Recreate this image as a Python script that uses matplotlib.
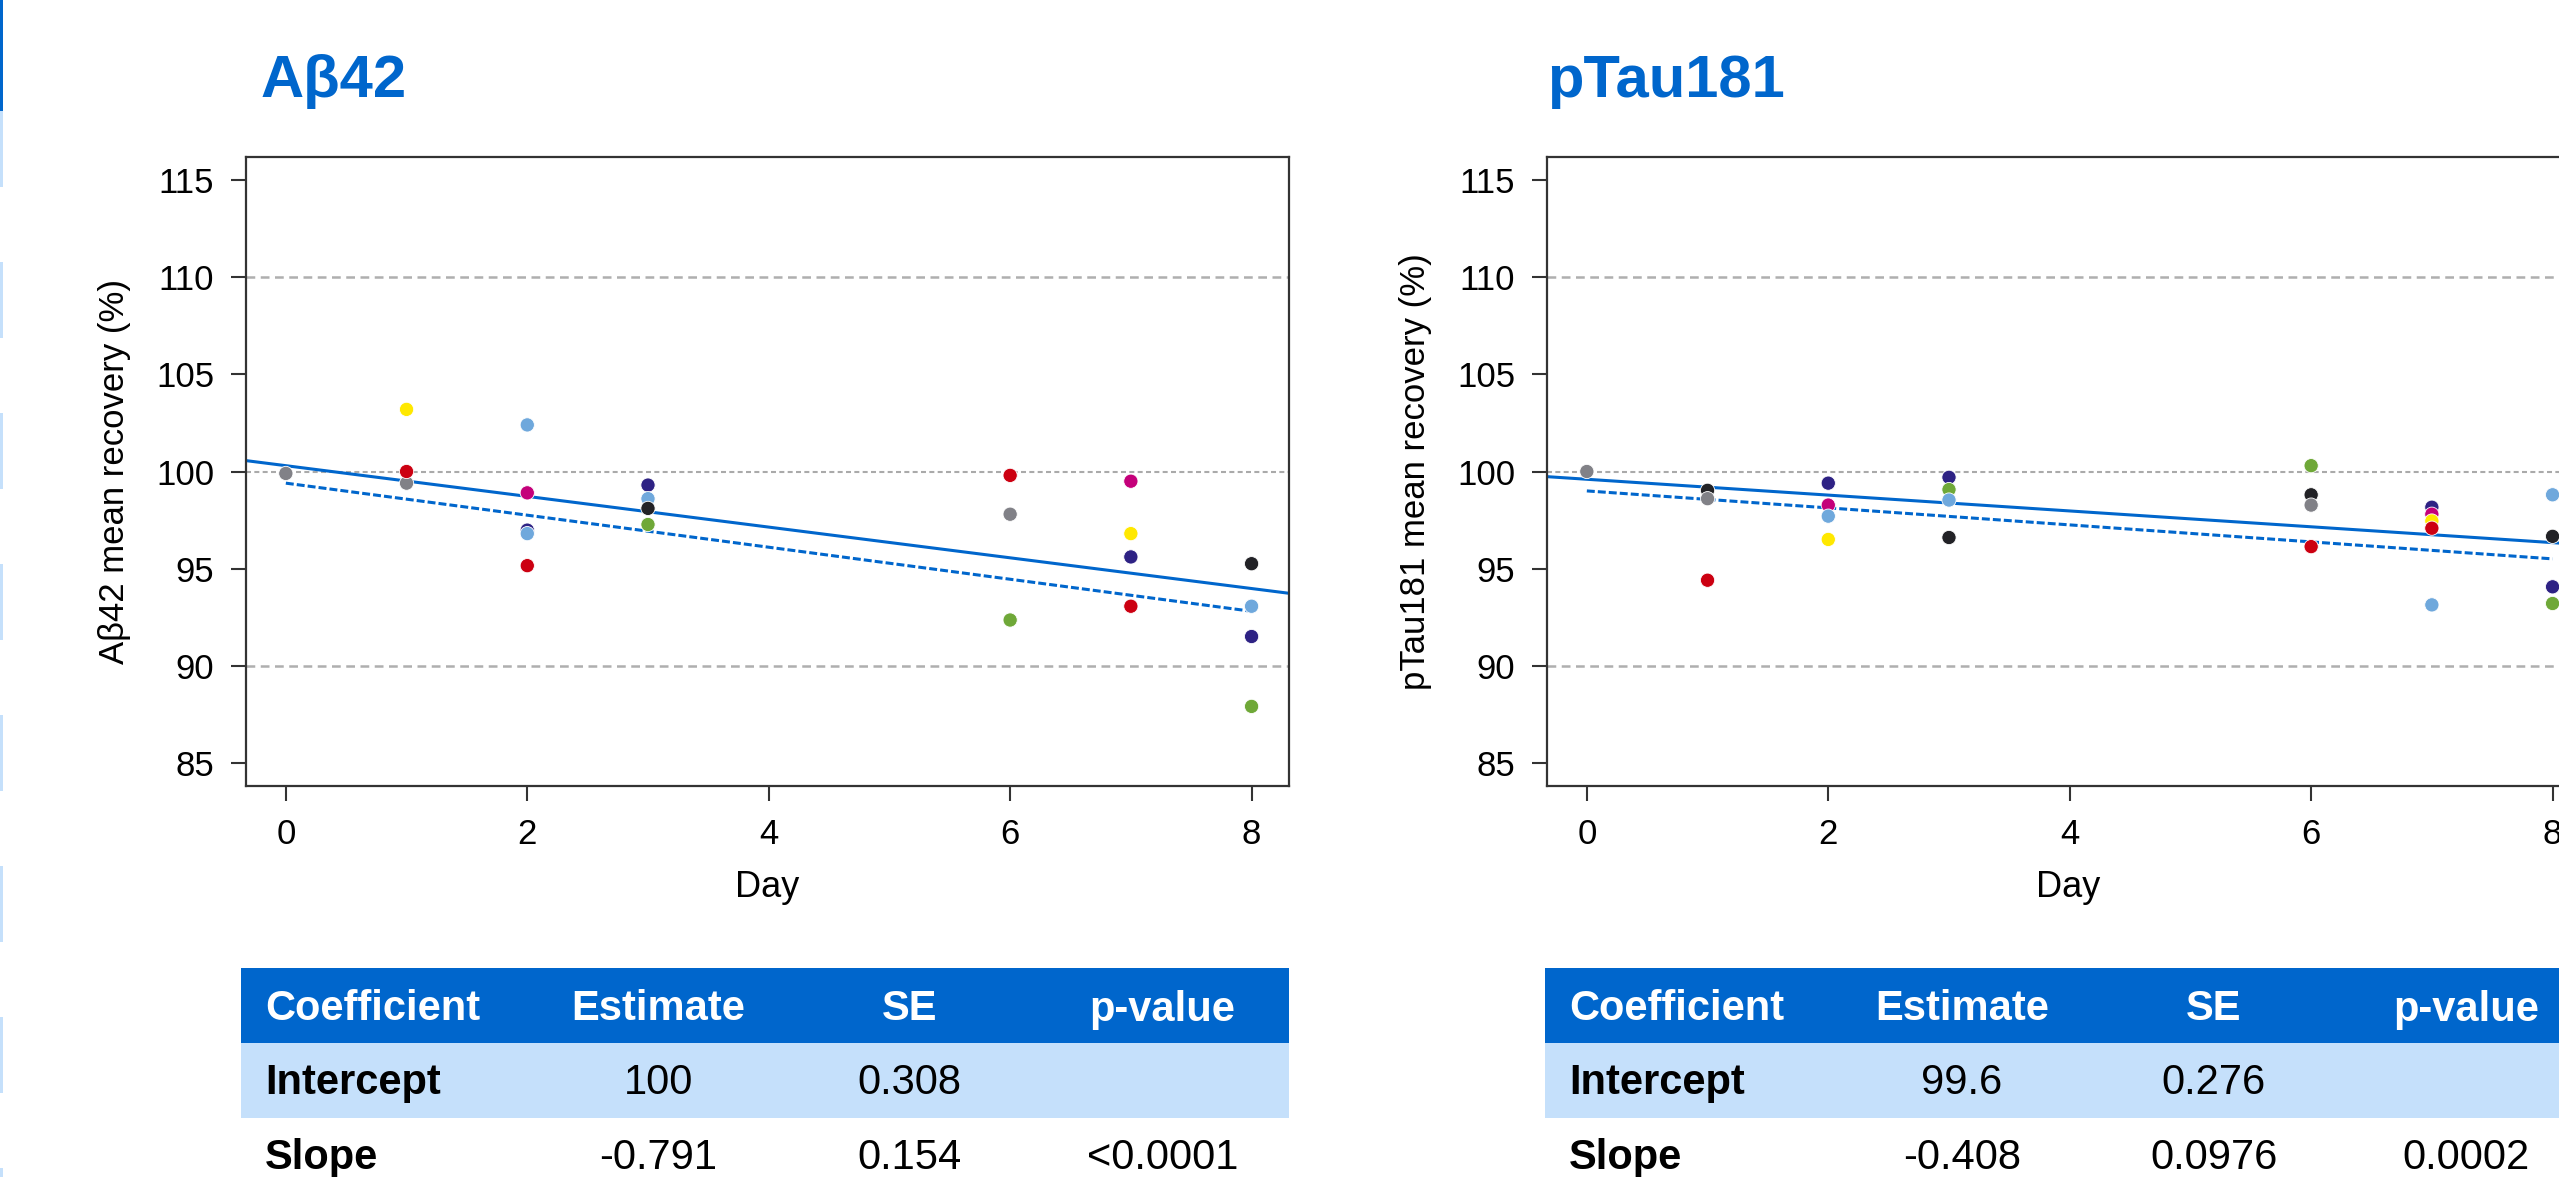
import matplotlib
matplotlib.use("Agg")
import matplotlib.pyplot as plt
from matplotlib.patches import Rectangle
import numpy as np

plt.rcParams['font.family'] = ['Liberation Sans', 'DejaVu Sans']

# sample colours
GRAY = '#818187'
RED = '#CC0011'
YEL = '#FFE800'
LBL = '#6FA8DC'
MAG = '#C4007A'
NAV = '#2E2284'
BLK = '#222226'
GRN = '#6FA838'

BLUE = '#0066CC'
LIGHT = '#C5E0FB'

# Abeta42 recovery per day (%)
ab_day = [0, 1, 1, 1, 2, 2, 2, 2, 2, 3, 3, 3, 3, 6, 6, 6, 7, 7, 7, 7, 8, 8, 8, 8]
ab_val = [99.9, 103.2, 99.4, 100.0, 102.4, 98.9, 96.98, 96.8, 95.15,
          99.3, 98.6, 98.1, 97.27, 99.8, 97.8, 92.35,
          99.5, 96.8, 95.6, 93.06, 95.25, 93.06, 91.5, 87.9]
ab_col = [GRAY, YEL, GRAY, RED, LBL, MAG, NAV, LBL, RED,
          NAV, LBL, BLK, GRN, RED, GRAY, GRN,
          MAG, YEL, NAV, RED, BLK, LBL, NAV, GRN]

# pTau181 recovery per day (%)
pt_day = [0, 1, 1, 1, 2, 2, 2, 2, 3, 3, 3, 3, 6, 6, 6, 6, 7, 7, 7, 7, 7, 8, 8, 8, 8]
pt_val = [100.0, 99.03, 98.6, 94.4, 99.4, 98.27, 97.7, 96.5,
          99.7, 99.07, 98.53, 96.6, 100.3, 98.8, 98.27, 96.13,
          98.16, 97.8, 97.45, 97.08, 93.13, 98.8, 96.66, 94.06, 93.2]
pt_col = [GRAY, BLK, GRAY, RED, NAV, MAG, LBL, YEL,
          NAV, GRN, LBL, BLK, GRN, BLK, GRAY, RED,
          NAV, MAG, YEL, RED, LBL, LBL, BLK, NAV, GRN]

# fitted lines
ab_fit = (100.3, -0.791)
pt_fit = (99.6, -0.408)
dash_x = [0, 8]
ab_dash_y = [99.4, 92.8]
pt_dash_y = [99.0, 95.5]

# coefficient tables
tab_header = ['Coefficient', 'Estimate', 'SE', 'p-value']
tab_rows = ['Intercept', 'Slope']
ab_est = ['100', '-0.791']
ab_se = ['0.308', '0.154']
ab_p = ['', '<0.0001']
pt_est = ['99.6', '-0.408']
pt_se = ['0.276', '0.0976']
pt_p = ['', '0.0002']

W, H = 2559, 1177
fig = plt.figure(figsize=(W / 100, H / 100), dpi=100)
fig.patch.set_facecolor('white')

# left edge stripe
fig.patches.append(Rectangle((0, 1 - 111 / H), 3.5 / W, 111 / H,
                             transform=fig.transFigure, color=BLUE, lw=0))
for k in range(8):
    top = 111 + 151 * k
    fig.patches.append(Rectangle((0, 1 - (top + 76) / H), 3.5 / W, 76 / H,
                                 transform=fig.transFigure, color=LIGHT, lw=0))


def panel(x0, ylabel, days, vals, cols, fit, dash_y):
    ax = fig.add_axes([x0 / W, 1 - 786 / H, 1043 / W, 629 / H])
    ax.set_xlim(-0.33, 8.31)
    ax.set_ylim(83.8, 116.2)
    ax.axhline(110, color='#AFAFAF', lw=1.8, ls=(0, (3.5, 2.2)), zorder=1)
    ax.axhline(90, color='#AFAFAF', lw=1.8, ls=(0, (3.5, 2.2)), zorder=1)
    ax.axhline(100, color='#AAAAAA', lw=1.5, ls=(0, (2.4, 1.6)), zorder=1)
    xl = np.array(ax.get_xlim())
    ax.plot(xl, fit[0] + fit[1] * xl, color=BLUE, lw=2.2, zorder=2)
    ax.plot(dash_x, dash_y, color=BLUE, lw=2.2, ls=(0, (2.6, 1.0)), zorder=2)
    ax.scatter(days, vals, c=cols, s=105, edgecolors='white', linewidths=0.6, zorder=3)
    ax.set_xticks([0, 2, 4, 6, 8])
    ax.set_yticks([85, 90, 95, 100, 105, 110, 115])
    ax.tick_params(direction='out', length=11, width=1.5, pad=12,
                   labelsize=25, color='#333333')
    for s in ax.spines.values():
        s.set_color('#333333')
        s.set_linewidth(1.6)
    ax.set_xlabel('Day', fontsize=26)
    ax.xaxis.set_label_coords(0.5, -0.134)
    ax.set_ylabel(ylabel, fontsize=25)
    ax.yaxis.set_label_coords(-0.11, 0.5)
    return ax


panel(246, 'Aβ42 mean recovery (%)', ab_day, ab_val, ab_col, ab_fit, ab_dash_y)
panel(1547, 'pTau181 mean recovery (%)', pt_day, pt_val, pt_col, pt_fit, pt_dash_y)

fig.text(261 / W, 1 - 97 / H, 'Aβ42', color=BLUE, fontsize=43,
         fontweight='bold', va='baseline')
fig.text(1547 / W, 1 - 97 / H, 'pTau181', color=BLUE, fontsize=43,
         fontweight='bold', va='baseline')


def table(x0, est, se, pv):
    t = fig.add_axes([x0 / W, 1 - 1193 / H, 1048 / W, 225 / H])
    t.set_xlim(0, 1)
    t.set_ylim(3, 0)
    t.axis('off')
    t.axhspan(0, 1, color=BLUE, lw=0)
    t.axhspan(1, 2, color=LIGHT, lw=0)
    xs = [0.023, 0.398, 0.638, 0.879]
    for j, h in enumerate(tab_header):
        t.text(xs[j], 0.7, h, color='white', fontsize=30, fontweight='bold',
               ha='left' if j == 0 else 'center', va='baseline')
    for i, name in enumerate(tab_rows):
        y = i + 1 + 0.68
        t.text(xs[0], y, name, fontsize=30, fontweight='bold', va='baseline')
        for j, v in enumerate([est[i], se[i], pv[i]]):
            t.text(xs[j + 1], y, v, fontsize=30, ha='center', va='baseline')


table(241, ab_est, ab_se, ab_p)
table(1545, pt_est, pt_se, pt_p)

fig.savefig('out.png', dpi=100)
